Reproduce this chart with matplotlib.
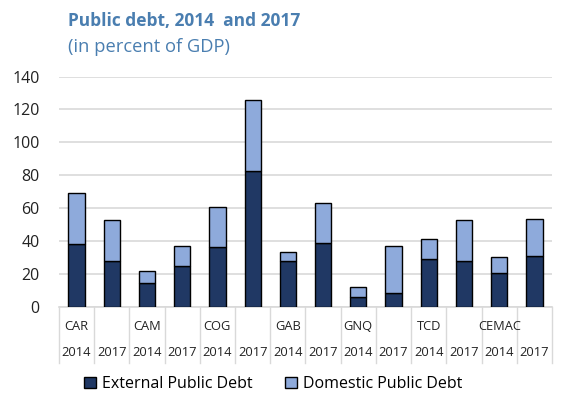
import matplotlib.pyplot as plt
import numpy as np
from matplotlib.patches import Patch

plt.rcParams['font.family'] = ['Open Sans', 'DejaVu Sans']

countries = ['CAR', 'CAM', 'COG', 'GAB', 'GNQ', 'TCD', 'CEMAC']
years = ['2014', '2017']
external = [38.2, 27.6, 14.6, 25.0, 36.1, 82.8, 27.6, 38.8, 5.9, 8.5, 29.2, 27.6, 20.7, 31.0]
total = [69.0, 52.6, 21.7, 37.1, 60.5, 125.8, 33.5, 62.9, 12.0, 37.1, 41.4, 52.6, 30.1, 53.4]
domestic = [t - e for t, e in zip(total, external)]

dark = '#203864'
light = '#8eaadb'
title_col = '#4a7eb0'

figure = plt.figure(figsize=(5.61, 4.03), dpi=100)
ax = figure.add_axes([0.105, 0.239, 0.879, 0.571])

x = np.arange(len(external))
ax.bar(x, external, width=0.46, color=dark, edgecolor='black', linewidth=1.0, zorder=3)
ax.bar(x, domestic, width=0.46, bottom=external, color=light, edgecolor='black', linewidth=1.0, zorder=3)

ax.set_ylim(0, 140)
ax.set_xlim(-0.5, len(x) - 0.5)
ax.set_yticks(np.arange(0, 141, 20))
ax.tick_params(axis='y', length=0, pad=14, labelsize=11.5, colors='#222222')
ax.set_xticks([])
ax.grid(axis='y', color='#d9d9d9', linewidth=1.2, zorder=0)
for s in ['top', 'right', 'left']:
    ax.spines[s].set_visible(False)
ax.spines['bottom'].set_color('#d9d9d9')
ax.spines['bottom'].set_linewidth(1.2)

# category separators and two-row labels
trans = ax.get_xaxis_transform()
for i in range(len(x) + 1):
    ax.plot([i - 0.5, i - 0.5], [0, -0.245], transform=trans, color='#d9d9d9',
            linewidth=1.0, clip_on=False)
for i, c in enumerate(countries):
    ax.text(2 * i, -0.088, c, transform=trans, ha='center', va='center', fontsize=9.3, color='#222222')
for i in range(len(x)):
    ax.text(i, -0.2, years[i % 2], transform=trans, ha='center', va='center', fontsize=9.3, color='#222222')

figure.text(0.121, 0.947, 'Public debt, 2014  and 2017', fontsize=12.5, fontweight='bold',
            color=title_col, va='center')
figure.text(0.121, 0.883, '(in percent of GDP)', fontsize=13.2, color=title_col, va='center')

handles = [Patch(facecolor=dark, edgecolor='black', label='External Public Debt'),
           Patch(facecolor=light, edgecolor='black', label='Domestic Public Debt')]
figure.legend(handles=handles, loc='center', bbox_to_anchor=(0.487, 0.047), ncol=2, frameon=False,
              fontsize=11.5, handlelength=0.75, handleheight=0.75, handletextpad=0.4, columnspacing=2.0)

plt.savefig('out.png', dpi=100)
